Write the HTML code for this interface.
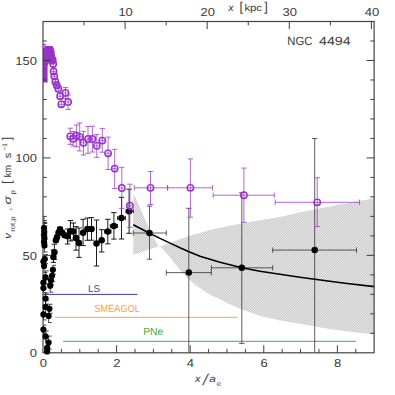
<!DOCTYPE html>
<html><head><meta charset="utf-8"><title>NGC 4494</title>
<style>html,body{margin:0;padding:0;background:#fff;}body{width:395px;height:395px;overflow:hidden;font-family:"Liberation Sans",sans-serif;}svg{display:block;}text{text-rendering:geometricPrecision;}</style>
</head><body>
<svg width="395" height="395" viewBox="0 0 395 395">
<defs>
<clipPath id="cp"><rect x="43.0" y="21.5" width="331.1" height="331.3"/></clipPath>
</defs>
<rect width="395" height="395" fill="#fff"/>
<clipPath id="sh"><polygon points="133.3,194.0 138.7,204.7 143.2,215.3 147.8,225.6 152.4,235.1 156.2,242.6 158.6,246.6 161.3,246.2 166.0,244.5 172.7,241.9 180.0,239.2 188.6,236.3 200.0,233.0 210.6,230.0 225.8,226.6 241.8,223.4 260.0,220.2 280.0,217.0 300.0,212.6 330.0,206.6 352.0,202.5 374.3,198.3 374.3,334.3 357.0,332.6 340.5,330.6 327.0,328.4 314.6,326.2 300.0,323.8 280.7,320.5 260.5,316.0 241.9,309.6 230.1,304.4 220.0,299.2 210.7,295.0 200.6,288.6 195.0,284.5 188.5,279.1 185.0,275.6 180.4,270.4 175.0,263.8 170.2,257.5 165.0,251.8 161.3,247.6 158.6,246.6 155.0,247.6 148.0,249.8 140.0,252.5 133.3,254.7"/></clipPath>
<polygon points="133.3,194.0 138.7,204.7 143.2,215.3 147.8,225.6 152.4,235.1 156.2,242.6 158.6,246.6 161.3,246.2 166.0,244.5 172.7,241.9 180.0,239.2 188.6,236.3 200.0,233.0 210.6,230.0 225.8,226.6 241.8,223.4 260.0,220.2 280.0,217.0 300.0,212.6 330.0,206.6 352.0,202.5 374.3,198.3 374.3,334.3 357.0,332.6 340.5,330.6 327.0,328.4 314.6,326.2 300.0,323.8 280.7,320.5 260.5,316.0 241.9,309.6 230.1,304.4 220.0,299.2 210.7,295.0 200.6,288.6 195.0,284.5 188.5,279.1 185.0,275.6 180.4,270.4 175.0,263.8 170.2,257.5 165.0,251.8 161.3,247.6 158.6,246.6 155.0,247.6 148.0,249.8 140.0,252.5 133.3,254.7" fill="#e5e5e5"/>
<g clip-path="url(#sh)" stroke="#c2c2c2" stroke-width="0.88">
<path d="M130,190.0 L378,-58.0"/>
<path d="M130,192.5 L378,-55.5"/>
<path d="M130,195.0 L378,-53.0"/>
<path d="M130,197.5 L378,-50.5"/>
<path d="M130,200.0 L378,-48.0"/>
<path d="M130,202.5 L378,-45.5"/>
<path d="M130,205.0 L378,-43.0"/>
<path d="M130,207.5 L378,-40.5"/>
<path d="M130,210.0 L378,-38.0"/>
<path d="M130,212.5 L378,-35.5"/>
<path d="M130,215.0 L378,-33.0"/>
<path d="M130,217.5 L378,-30.5"/>
<path d="M130,220.0 L378,-28.0"/>
<path d="M130,222.5 L378,-25.5"/>
<path d="M130,225.0 L378,-23.0"/>
<path d="M130,227.5 L378,-20.5"/>
<path d="M130,230.0 L378,-18.0"/>
<path d="M130,232.5 L378,-15.5"/>
<path d="M130,235.0 L378,-13.0"/>
<path d="M130,237.5 L378,-10.5"/>
<path d="M130,240.0 L378,-8.0"/>
<path d="M130,242.5 L378,-5.5"/>
<path d="M130,245.0 L378,-3.0"/>
<path d="M130,247.5 L378,-0.5"/>
<path d="M130,250.0 L378,2.0"/>
<path d="M130,252.5 L378,4.5"/>
<path d="M130,255.0 L378,7.0"/>
<path d="M130,257.5 L378,9.5"/>
<path d="M130,260.0 L378,12.0"/>
<path d="M130,262.5 L378,14.5"/>
<path d="M130,265.0 L378,17.0"/>
<path d="M130,267.5 L378,19.5"/>
<path d="M130,270.0 L378,22.0"/>
<path d="M130,272.5 L378,24.5"/>
<path d="M130,275.0 L378,27.0"/>
<path d="M130,277.5 L378,29.5"/>
<path d="M130,280.0 L378,32.0"/>
<path d="M130,282.5 L378,34.5"/>
<path d="M130,285.0 L378,37.0"/>
<path d="M130,287.5 L378,39.5"/>
<path d="M130,290.0 L378,42.0"/>
<path d="M130,292.5 L378,44.5"/>
<path d="M130,295.0 L378,47.0"/>
<path d="M130,297.5 L378,49.5"/>
<path d="M130,300.0 L378,52.0"/>
<path d="M130,302.5 L378,54.5"/>
<path d="M130,305.0 L378,57.0"/>
<path d="M130,307.5 L378,59.5"/>
<path d="M130,310.0 L378,62.0"/>
<path d="M130,312.5 L378,64.5"/>
<path d="M130,315.0 L378,67.0"/>
<path d="M130,317.5 L378,69.5"/>
<path d="M130,320.0 L378,72.0"/>
<path d="M130,322.5 L378,74.5"/>
<path d="M130,325.0 L378,77.0"/>
<path d="M130,327.5 L378,79.5"/>
<path d="M130,330.0 L378,82.0"/>
<path d="M130,332.5 L378,84.5"/>
<path d="M130,335.0 L378,87.0"/>
<path d="M130,337.5 L378,89.5"/>
<path d="M130,340.0 L378,92.0"/>
<path d="M130,342.5 L378,94.5"/>
<path d="M130,345.0 L378,97.0"/>
<path d="M130,347.5 L378,99.5"/>
<path d="M130,350.0 L378,102.0"/>
<path d="M130,352.5 L378,104.5"/>
<path d="M130,355.0 L378,107.0"/>
<path d="M130,357.5 L378,109.5"/>
<path d="M130,360.0 L378,112.0"/>
<path d="M130,362.5 L378,114.5"/>
<path d="M130,365.0 L378,117.0"/>
<path d="M130,367.5 L378,119.5"/>
<path d="M130,370.0 L378,122.0"/>
<path d="M130,372.5 L378,124.5"/>
<path d="M130,375.0 L378,127.0"/>
<path d="M130,377.5 L378,129.5"/>
<path d="M130,380.0 L378,132.0"/>
<path d="M130,382.5 L378,134.5"/>
<path d="M130,385.0 L378,137.0"/>
<path d="M130,387.5 L378,139.5"/>
<path d="M130,390.0 L378,142.0"/>
<path d="M130,392.5 L378,144.5"/>
<path d="M130,395.0 L378,147.0"/>
<path d="M130,397.5 L378,149.5"/>
<path d="M130,400.0 L378,152.0"/>
<path d="M130,402.5 L378,154.5"/>
<path d="M130,405.0 L378,157.0"/>
<path d="M130,407.5 L378,159.5"/>
<path d="M130,410.0 L378,162.0"/>
<path d="M130,412.5 L378,164.5"/>
<path d="M130,415.0 L378,167.0"/>
<path d="M130,417.5 L378,169.5"/>
<path d="M130,420.0 L378,172.0"/>
<path d="M130,422.5 L378,174.5"/>
<path d="M130,425.0 L378,177.0"/>
<path d="M130,427.5 L378,179.5"/>
<path d="M130,430.0 L378,182.0"/>
<path d="M130,432.5 L378,184.5"/>
<path d="M130,435.0 L378,187.0"/>
<path d="M130,437.5 L378,189.5"/>
<path d="M130,440.0 L378,192.0"/>
<path d="M130,442.5 L378,194.5"/>
<path d="M130,445.0 L378,197.0"/>
<path d="M130,447.5 L378,199.5"/>
<path d="M130,450.0 L378,202.0"/>
<path d="M130,452.5 L378,204.5"/>
<path d="M130,455.0 L378,207.0"/>
<path d="M130,457.5 L378,209.5"/>
<path d="M130,460.0 L378,212.0"/>
<path d="M130,462.5 L378,214.5"/>
<path d="M130,465.0 L378,217.0"/>
<path d="M130,467.5 L378,219.5"/>
<path d="M130,470.0 L378,222.0"/>
<path d="M130,472.5 L378,224.5"/>
<path d="M130,475.0 L378,227.0"/>
<path d="M130,477.5 L378,229.5"/>
<path d="M130,480.0 L378,232.0"/>
<path d="M130,482.5 L378,234.5"/>
<path d="M130,485.0 L378,237.0"/>
<path d="M130,487.5 L378,239.5"/>
<path d="M130,490.0 L378,242.0"/>
<path d="M130,492.5 L378,244.5"/>
<path d="M130,495.0 L378,247.0"/>
<path d="M130,497.5 L378,249.5"/>
<path d="M130,500.0 L378,252.0"/>
<path d="M130,502.5 L378,254.5"/>
<path d="M130,505.0 L378,257.0"/>
<path d="M130,507.5 L378,259.5"/>
<path d="M130,510.0 L378,262.0"/>
<path d="M130,512.5 L378,264.5"/>
<path d="M130,515.0 L378,267.0"/>
<path d="M130,517.5 L378,269.5"/>
<path d="M130,520.0 L378,272.0"/>
<path d="M130,522.5 L378,274.5"/>
<path d="M130,525.0 L378,277.0"/>
<path d="M130,527.5 L378,279.5"/>
<path d="M130,530.0 L378,282.0"/>
<path d="M130,532.5 L378,284.5"/>
<path d="M130,535.0 L378,287.0"/>
<path d="M130,537.5 L378,289.5"/>
<path d="M130,540.0 L378,292.0"/>
<path d="M130,542.5 L378,294.5"/>
<path d="M130,545.0 L378,297.0"/>
<path d="M130,547.5 L378,299.5"/>
<path d="M130,550.0 L378,302.0"/>
<path d="M130,552.5 L378,304.5"/>
<path d="M130,555.0 L378,307.0"/>
<path d="M130,557.5 L378,309.5"/>
<path d="M130,560.0 L378,312.0"/>
<path d="M130,562.5 L378,314.5"/>
<path d="M130,565.0 L378,317.0"/>
<path d="M130,567.5 L378,319.5"/>
<path d="M130,570.0 L378,322.0"/>
<path d="M130,572.5 L378,324.5"/>
<path d="M130,575.0 L378,327.0"/>
<path d="M130,577.5 L378,329.5"/>
<path d="M130,580.0 L378,332.0"/>
<path d="M130,582.5 L378,334.5"/>
</g>
<line x1="44.00" y1="294.40" x2="137.40" y2="294.40" stroke="#3c3cb0" stroke-width="1.0" />
<line x1="55.00" y1="317.30" x2="237.20" y2="317.30" stroke="#ffa64d" stroke-width="1.0" />
<line x1="63.10" y1="341.30" x2="356.00" y2="341.30" stroke="#45b045" stroke-width="1.0" />
<path d="M133.2,224.7 L141.0,228.8 L149.6,233.2 L160.0,238.4 L170.6,243.4 L180.0,247.8 L188.4,251.5 L200.0,256.2 L220.0,262.3 L241.8,267.8 L260.0,271.2 L280.0,274.3 L300.0,277.2 L314.7,279.2 L345.0,283.2 L374.3,286.6" fill="none" stroke="#000" stroke-width="1.6" stroke-linejoin="round"/>
<g clip-path="url(#cp)">
<line x1="54.40" y1="244.20" x2="54.40" y2="259.50" stroke="#0a0a0a" stroke-width="0.92" />
<line x1="51.70" y1="244.20" x2="57.10" y2="244.20" stroke="#0a0a0a" stroke-width="0.92" />
<line x1="51.70" y1="259.50" x2="57.10" y2="259.50" stroke="#0a0a0a" stroke-width="0.92" />
<line x1="53.40" y1="250.00" x2="53.40" y2="262.40" stroke="#0a0a0a" stroke-width="0.92" />
<line x1="50.70" y1="250.00" x2="56.10" y2="250.00" stroke="#0a0a0a" stroke-width="0.92" />
<line x1="50.70" y1="262.40" x2="56.10" y2="262.40" stroke="#0a0a0a" stroke-width="0.92" />
<line x1="60.00" y1="227.00" x2="60.00" y2="232.00" stroke="#0a0a0a" stroke-width="0.92" />
<line x1="57.30" y1="227.00" x2="62.70" y2="227.00" stroke="#0a0a0a" stroke-width="0.92" />
<line x1="57.30" y1="232.00" x2="62.70" y2="232.00" stroke="#0a0a0a" stroke-width="0.92" />
<line x1="67.60" y1="229.00" x2="67.60" y2="244.00" stroke="#0a0a0a" stroke-width="0.92" />
<line x1="64.90" y1="229.00" x2="70.30" y2="229.00" stroke="#0a0a0a" stroke-width="0.92" />
<line x1="64.90" y1="244.00" x2="70.30" y2="244.00" stroke="#0a0a0a" stroke-width="0.92" />
<line x1="70.40" y1="220.50" x2="70.40" y2="241.00" stroke="#0a0a0a" stroke-width="0.92" />
<line x1="67.70" y1="220.50" x2="73.10" y2="220.50" stroke="#0a0a0a" stroke-width="0.92" />
<line x1="67.70" y1="241.00" x2="73.10" y2="241.00" stroke="#0a0a0a" stroke-width="0.92" />
<line x1="73.40" y1="223.00" x2="73.40" y2="240.00" stroke="#0a0a0a" stroke-width="0.92" />
<line x1="70.70" y1="223.00" x2="76.10" y2="223.00" stroke="#0a0a0a" stroke-width="0.92" />
<line x1="70.70" y1="240.00" x2="76.10" y2="240.00" stroke="#0a0a0a" stroke-width="0.92" />
<line x1="76.00" y1="226.60" x2="76.00" y2="250.20" stroke="#0a0a0a" stroke-width="0.92" />
<line x1="73.30" y1="226.60" x2="78.70" y2="226.60" stroke="#0a0a0a" stroke-width="0.92" />
<line x1="73.30" y1="250.20" x2="78.70" y2="250.20" stroke="#0a0a0a" stroke-width="0.92" />
<line x1="79.00" y1="228.00" x2="79.00" y2="257.40" stroke="#0a0a0a" stroke-width="0.92" />
<line x1="76.30" y1="228.00" x2="81.70" y2="228.00" stroke="#0a0a0a" stroke-width="0.92" />
<line x1="76.30" y1="257.40" x2="81.70" y2="257.40" stroke="#0a0a0a" stroke-width="0.92" />
<line x1="83.10" y1="219.30" x2="83.10" y2="245.60" stroke="#0a0a0a" stroke-width="0.92" />
<line x1="80.40" y1="219.30" x2="85.80" y2="219.30" stroke="#0a0a0a" stroke-width="0.92" />
<line x1="80.40" y1="245.60" x2="85.80" y2="245.60" stroke="#0a0a0a" stroke-width="0.92" />
<line x1="87.40" y1="218.00" x2="87.40" y2="240.30" stroke="#0a0a0a" stroke-width="0.92" />
<line x1="84.70" y1="218.00" x2="90.10" y2="218.00" stroke="#0a0a0a" stroke-width="0.92" />
<line x1="84.70" y1="240.30" x2="90.10" y2="240.30" stroke="#0a0a0a" stroke-width="0.92" />
<line x1="91.50" y1="217.60" x2="91.50" y2="240.20" stroke="#0a0a0a" stroke-width="0.92" />
<line x1="88.80" y1="217.60" x2="94.20" y2="217.60" stroke="#0a0a0a" stroke-width="0.92" />
<line x1="88.80" y1="240.20" x2="94.20" y2="240.20" stroke="#0a0a0a" stroke-width="0.92" />
<line x1="96.50" y1="220.00" x2="96.50" y2="266.00" stroke="#0a0a0a" stroke-width="0.92" />
<line x1="93.80" y1="220.00" x2="99.20" y2="220.00" stroke="#0a0a0a" stroke-width="0.92" />
<line x1="93.80" y1="266.00" x2="99.20" y2="266.00" stroke="#0a0a0a" stroke-width="0.92" />
<line x1="101.70" y1="229.70" x2="101.70" y2="252.00" stroke="#0a0a0a" stroke-width="0.92" />
<line x1="99.00" y1="229.70" x2="104.40" y2="229.70" stroke="#0a0a0a" stroke-width="0.92" />
<line x1="99.00" y1="252.00" x2="104.40" y2="252.00" stroke="#0a0a0a" stroke-width="0.92" />
<line x1="107.80" y1="219.30" x2="107.80" y2="243.90" stroke="#0a0a0a" stroke-width="0.92" />
<line x1="105.10" y1="219.30" x2="110.50" y2="219.30" stroke="#0a0a0a" stroke-width="0.92" />
<line x1="105.10" y1="243.90" x2="110.50" y2="243.90" stroke="#0a0a0a" stroke-width="0.92" />
<line x1="104.60" y1="231.50" x2="111.00" y2="231.50" stroke="#0a0a0a" stroke-width="0.92" />
<line x1="104.60" y1="229.50" x2="104.60" y2="233.50" stroke="#0a0a0a" stroke-width="0.92" />
<line x1="111.00" y1="229.50" x2="111.00" y2="233.50" stroke="#0a0a0a" stroke-width="0.92" />
<line x1="113.90" y1="212.60" x2="113.90" y2="239.10" stroke="#0a0a0a" stroke-width="0.92" />
<line x1="111.20" y1="212.60" x2="116.60" y2="212.60" stroke="#0a0a0a" stroke-width="0.92" />
<line x1="111.20" y1="239.10" x2="116.60" y2="239.10" stroke="#0a0a0a" stroke-width="0.92" />
<line x1="110.30" y1="226.00" x2="117.50" y2="226.00" stroke="#0a0a0a" stroke-width="0.92" />
<line x1="110.30" y1="224.00" x2="110.30" y2="228.00" stroke="#0a0a0a" stroke-width="0.92" />
<line x1="117.50" y1="224.00" x2="117.50" y2="228.00" stroke="#0a0a0a" stroke-width="0.92" />
<line x1="121.50" y1="197.30" x2="121.50" y2="239.00" stroke="#0a0a0a" stroke-width="0.92" />
<line x1="118.80" y1="197.30" x2="124.20" y2="197.30" stroke="#0a0a0a" stroke-width="0.92" />
<line x1="118.80" y1="239.00" x2="124.20" y2="239.00" stroke="#0a0a0a" stroke-width="0.92" />
<line x1="117.60" y1="218.10" x2="125.40" y2="218.10" stroke="#0a0a0a" stroke-width="0.92" />
<line x1="117.60" y1="216.10" x2="117.60" y2="220.10" stroke="#0a0a0a" stroke-width="0.92" />
<line x1="125.40" y1="216.10" x2="125.40" y2="220.10" stroke="#0a0a0a" stroke-width="0.92" />
<line x1="129.10" y1="189.20" x2="129.10" y2="233.30" stroke="#0a0a0a" stroke-width="0.92" />
<line x1="126.40" y1="189.20" x2="131.80" y2="189.20" stroke="#0a0a0a" stroke-width="0.92" />
<line x1="126.40" y1="233.30" x2="131.80" y2="233.30" stroke="#0a0a0a" stroke-width="0.92" />
<line x1="126.00" y1="211.20" x2="133.30" y2="211.20" stroke="#0a0a0a" stroke-width="0.92" />
<line x1="126.00" y1="209.20" x2="126.00" y2="213.20" stroke="#0a0a0a" stroke-width="0.92" />
<line x1="133.30" y1="209.20" x2="133.30" y2="213.20" stroke="#0a0a0a" stroke-width="0.92" />
<line x1="149.50" y1="206.10" x2="149.50" y2="259.20" stroke="#222" stroke-width="0.72" />
<line x1="146.80" y1="206.10" x2="152.20" y2="206.10" stroke="#222" stroke-width="0.72" />
<line x1="146.80" y1="259.20" x2="152.20" y2="259.20" stroke="#222" stroke-width="0.72" />
<line x1="133.20" y1="233.00" x2="166.30" y2="233.00" stroke="#222" stroke-width="0.72" />
<line x1="133.20" y1="230.30" x2="133.20" y2="235.70" stroke="#222" stroke-width="0.72" />
<line x1="166.30" y1="230.30" x2="166.30" y2="235.70" stroke="#222" stroke-width="0.72" />
<line x1="188.80" y1="208.30" x2="188.80" y2="352.70" stroke="#222" stroke-width="0.72" />
<line x1="186.10" y1="208.30" x2="191.50" y2="208.30" stroke="#222" stroke-width="0.72" />
<line x1="166.30" y1="272.60" x2="211.30" y2="272.60" stroke="#222" stroke-width="0.72" />
<line x1="166.30" y1="269.90" x2="166.30" y2="275.30" stroke="#222" stroke-width="0.72" />
<line x1="211.30" y1="269.90" x2="211.30" y2="275.30" stroke="#222" stroke-width="0.72" />
<line x1="241.80" y1="192.70" x2="241.80" y2="343.40" stroke="#222" stroke-width="0.72" />
<line x1="239.10" y1="192.70" x2="244.50" y2="192.70" stroke="#222" stroke-width="0.72" />
<line x1="239.10" y1="343.40" x2="244.50" y2="343.40" stroke="#222" stroke-width="0.72" />
<line x1="211.40" y1="267.80" x2="272.70" y2="267.80" stroke="#222" stroke-width="0.72" />
<line x1="211.40" y1="265.10" x2="211.40" y2="270.50" stroke="#222" stroke-width="0.72" />
<line x1="272.70" y1="265.10" x2="272.70" y2="270.50" stroke="#222" stroke-width="0.72" />
<line x1="314.70" y1="138.50" x2="314.70" y2="352.70" stroke="#222" stroke-width="0.72" />
<line x1="312.00" y1="138.50" x2="317.40" y2="138.50" stroke="#222" stroke-width="0.72" />
<line x1="272.70" y1="250.10" x2="356.50" y2="250.10" stroke="#222" stroke-width="0.72" />
<line x1="272.70" y1="247.40" x2="272.70" y2="252.80" stroke="#222" stroke-width="0.72" />
<line x1="356.50" y1="247.40" x2="356.50" y2="252.80" stroke="#222" stroke-width="0.72" />
</g>
<g clip-path="url(#cp)">
<line x1="44.00" y1="223.50" x2="44.00" y2="232.50" stroke="#1a1a1a" stroke-width="0.8" />
<line x1="43.50" y1="223.50" x2="47.20" y2="223.50" stroke="#1a1a1a" stroke-width="0.8" />
<line x1="43.50" y1="232.50" x2="47.20" y2="232.50" stroke="#1a1a1a" stroke-width="0.8" />
<line x1="44.20" y1="226.00" x2="44.20" y2="237.00" stroke="#1a1a1a" stroke-width="0.8" />
<line x1="43.70" y1="226.00" x2="47.40" y2="226.00" stroke="#1a1a1a" stroke-width="0.8" />
<line x1="43.70" y1="237.00" x2="47.40" y2="237.00" stroke="#1a1a1a" stroke-width="0.8" />
<line x1="44.00" y1="228.50" x2="44.00" y2="241.50" stroke="#1a1a1a" stroke-width="0.8" />
<line x1="43.50" y1="228.50" x2="47.20" y2="228.50" stroke="#1a1a1a" stroke-width="0.8" />
<line x1="43.50" y1="241.50" x2="47.20" y2="241.50" stroke="#1a1a1a" stroke-width="0.8" />
<line x1="44.30" y1="234.00" x2="44.30" y2="243.00" stroke="#1a1a1a" stroke-width="0.8" />
<line x1="43.80" y1="234.00" x2="47.50" y2="234.00" stroke="#1a1a1a" stroke-width="0.8" />
<line x1="43.80" y1="243.00" x2="47.50" y2="243.00" stroke="#1a1a1a" stroke-width="0.8" />
<line x1="44.00" y1="236.50" x2="44.00" y2="247.50" stroke="#1a1a1a" stroke-width="0.8" />
<line x1="43.50" y1="236.50" x2="47.20" y2="236.50" stroke="#1a1a1a" stroke-width="0.8" />
<line x1="43.50" y1="247.50" x2="47.20" y2="247.50" stroke="#1a1a1a" stroke-width="0.8" />
<line x1="44.40" y1="239.00" x2="44.40" y2="252.00" stroke="#1a1a1a" stroke-width="0.8" />
<line x1="43.90" y1="239.00" x2="47.60" y2="239.00" stroke="#1a1a1a" stroke-width="0.8" />
<line x1="43.90" y1="252.00" x2="47.60" y2="252.00" stroke="#1a1a1a" stroke-width="0.8" />
<line x1="44.80" y1="254.60" x2="44.80" y2="263.60" stroke="#1a1a1a" stroke-width="0.8" />
<line x1="44.30" y1="254.60" x2="48.00" y2="254.60" stroke="#1a1a1a" stroke-width="0.8" />
<line x1="44.30" y1="263.60" x2="48.00" y2="263.60" stroke="#1a1a1a" stroke-width="0.8" />
<line x1="43.40" y1="256.10" x2="43.40" y2="267.10" stroke="#1a1a1a" stroke-width="0.8" />
<line x1="42.90" y1="256.10" x2="46.60" y2="256.10" stroke="#1a1a1a" stroke-width="0.8" />
<line x1="42.90" y1="267.10" x2="46.60" y2="267.10" stroke="#1a1a1a" stroke-width="0.8" />
<line x1="44.10" y1="259.50" x2="44.10" y2="272.50" stroke="#1a1a1a" stroke-width="0.8" />
<line x1="43.60" y1="259.50" x2="47.30" y2="259.50" stroke="#1a1a1a" stroke-width="0.8" />
<line x1="43.60" y1="272.50" x2="47.30" y2="272.50" stroke="#1a1a1a" stroke-width="0.8" />
<line x1="52.90" y1="265.30" x2="52.90" y2="274.30" stroke="#1a1a1a" stroke-width="0.8" />
<line x1="52.40" y1="265.30" x2="56.10" y2="265.30" stroke="#1a1a1a" stroke-width="0.8" />
<line x1="52.40" y1="274.30" x2="56.10" y2="274.30" stroke="#1a1a1a" stroke-width="0.8" />
<line x1="52.00" y1="270.30" x2="52.00" y2="281.30" stroke="#1a1a1a" stroke-width="0.8" />
<line x1="51.50" y1="270.30" x2="55.20" y2="270.30" stroke="#1a1a1a" stroke-width="0.8" />
<line x1="51.50" y1="281.30" x2="55.20" y2="281.30" stroke="#1a1a1a" stroke-width="0.8" />
<line x1="45.60" y1="270.90" x2="45.60" y2="283.90" stroke="#1a1a1a" stroke-width="0.8" />
<line x1="45.10" y1="270.90" x2="48.80" y2="270.90" stroke="#1a1a1a" stroke-width="0.8" />
<line x1="45.10" y1="283.90" x2="48.80" y2="283.90" stroke="#1a1a1a" stroke-width="0.8" />
<line x1="50.90" y1="275.90" x2="50.90" y2="284.90" stroke="#1a1a1a" stroke-width="0.8" />
<line x1="50.40" y1="275.90" x2="54.10" y2="275.90" stroke="#1a1a1a" stroke-width="0.8" />
<line x1="50.40" y1="284.90" x2="54.10" y2="284.90" stroke="#1a1a1a" stroke-width="0.8" />
<line x1="43.40" y1="277.20" x2="43.40" y2="288.20" stroke="#1a1a1a" stroke-width="0.8" />
<line x1="42.90" y1="277.20" x2="46.60" y2="277.20" stroke="#1a1a1a" stroke-width="0.8" />
<line x1="42.90" y1="288.20" x2="46.60" y2="288.20" stroke="#1a1a1a" stroke-width="0.8" />
<line x1="50.20" y1="279.20" x2="50.20" y2="292.20" stroke="#1a1a1a" stroke-width="0.8" />
<line x1="49.70" y1="279.20" x2="53.40" y2="279.20" stroke="#1a1a1a" stroke-width="0.8" />
<line x1="49.70" y1="292.20" x2="53.40" y2="292.20" stroke="#1a1a1a" stroke-width="0.8" />
<line x1="43.40" y1="283.50" x2="43.40" y2="292.50" stroke="#1a1a1a" stroke-width="0.8" />
<line x1="42.90" y1="283.50" x2="46.60" y2="283.50" stroke="#1a1a1a" stroke-width="0.8" />
<line x1="42.90" y1="292.50" x2="46.60" y2="292.50" stroke="#1a1a1a" stroke-width="0.8" />
<line x1="45.60" y1="293.10" x2="45.60" y2="304.10" stroke="#1a1a1a" stroke-width="0.8" />
<line x1="45.10" y1="293.10" x2="48.80" y2="293.10" stroke="#1a1a1a" stroke-width="0.8" />
<line x1="45.10" y1="304.10" x2="48.80" y2="304.10" stroke="#1a1a1a" stroke-width="0.8" />
<line x1="45.60" y1="300.40" x2="45.60" y2="313.40" stroke="#1a1a1a" stroke-width="0.8" />
<line x1="45.10" y1="300.40" x2="48.80" y2="300.40" stroke="#1a1a1a" stroke-width="0.8" />
<line x1="45.10" y1="313.40" x2="48.80" y2="313.40" stroke="#1a1a1a" stroke-width="0.8" />
<line x1="49.40" y1="304.30" x2="49.40" y2="313.30" stroke="#1a1a1a" stroke-width="0.8" />
<line x1="48.90" y1="304.30" x2="52.60" y2="304.30" stroke="#1a1a1a" stroke-width="0.8" />
<line x1="48.90" y1="313.30" x2="52.60" y2="313.30" stroke="#1a1a1a" stroke-width="0.8" />
<line x1="43.40" y1="308.90" x2="43.40" y2="319.90" stroke="#1a1a1a" stroke-width="0.8" />
<line x1="42.90" y1="308.90" x2="46.60" y2="308.90" stroke="#1a1a1a" stroke-width="0.8" />
<line x1="42.90" y1="319.90" x2="46.60" y2="319.90" stroke="#1a1a1a" stroke-width="0.8" />
<line x1="48.60" y1="309.50" x2="48.60" y2="322.50" stroke="#1a1a1a" stroke-width="0.8" />
<line x1="48.10" y1="309.50" x2="51.80" y2="309.50" stroke="#1a1a1a" stroke-width="0.8" />
<line x1="48.10" y1="322.50" x2="51.80" y2="322.50" stroke="#1a1a1a" stroke-width="0.8" />
<line x1="43.40" y1="325.10" x2="43.40" y2="334.10" stroke="#1a1a1a" stroke-width="0.8" />
<line x1="42.90" y1="325.10" x2="46.60" y2="325.10" stroke="#1a1a1a" stroke-width="0.8" />
<line x1="42.90" y1="334.10" x2="46.60" y2="334.10" stroke="#1a1a1a" stroke-width="0.8" />
<line x1="45.60" y1="331.00" x2="45.60" y2="342.00" stroke="#1a1a1a" stroke-width="0.8" />
<line x1="45.10" y1="331.00" x2="48.80" y2="331.00" stroke="#1a1a1a" stroke-width="0.8" />
<line x1="45.10" y1="342.00" x2="48.80" y2="342.00" stroke="#1a1a1a" stroke-width="0.8" />
<line x1="48.60" y1="336.10" x2="48.60" y2="349.10" stroke="#1a1a1a" stroke-width="0.8" />
<line x1="48.10" y1="336.10" x2="51.80" y2="336.10" stroke="#1a1a1a" stroke-width="0.8" />
<line x1="48.10" y1="349.10" x2="51.80" y2="349.10" stroke="#1a1a1a" stroke-width="0.8" />
<line x1="47.10" y1="343.40" x2="47.10" y2="352.40" stroke="#1a1a1a" stroke-width="0.8" />
<line x1="46.60" y1="343.40" x2="50.30" y2="343.40" stroke="#1a1a1a" stroke-width="0.8" />
<line x1="46.60" y1="352.40" x2="50.30" y2="352.40" stroke="#1a1a1a" stroke-width="0.8" />
<line x1="47.10" y1="346.00" x2="47.10" y2="357.00" stroke="#1a1a1a" stroke-width="0.8" />
<line x1="46.60" y1="346.00" x2="50.30" y2="346.00" stroke="#1a1a1a" stroke-width="0.8" />
<line x1="46.60" y1="357.00" x2="50.30" y2="357.00" stroke="#1a1a1a" stroke-width="0.8" />
<line x1="44.00" y1="216.50" x2="44.00" y2="228.00" stroke="#1a1a1a" stroke-width="0.8" />
<line x1="43.00" y1="220.60" x2="47.00" y2="220.60" stroke="#1a1a1a" stroke-width="0.9" />
<line x1="43.00" y1="222.50" x2="47.00" y2="222.50" stroke="#1a1a1a" stroke-width="0.9" />
</g>
<circle cx="60.0" cy="229.6" r="3.25" fill="#000"/>
<circle cx="62.3" cy="232.7" r="3.25" fill="#000"/>
<circle cx="64.6" cy="235.3" r="3.25" fill="#000"/>
<circle cx="67.6" cy="236.2" r="3.25" fill="#000"/>
<circle cx="70.4" cy="231.2" r="3.25" fill="#000"/>
<circle cx="73.4" cy="231.5" r="3.25" fill="#000"/>
<circle cx="76.0" cy="238.0" r="3.25" fill="#000"/>
<circle cx="79.0" cy="242.9" r="3.25" fill="#000"/>
<circle cx="83.1" cy="232.7" r="3.25" fill="#000"/>
<circle cx="87.4" cy="229.0" r="3.25" fill="#000"/>
<circle cx="91.5" cy="229.0" r="3.25" fill="#000"/>
<circle cx="96.5" cy="243.6" r="3.25" fill="#000"/>
<circle cx="101.7" cy="240.3" r="3.25" fill="#000"/>
<circle cx="107.8" cy="231.5" r="3.25" fill="#000"/>
<circle cx="113.9" cy="226.0" r="3.25" fill="#000"/>
<circle cx="121.5" cy="218.1" r="3.25" fill="#000"/>
<circle cx="129.1" cy="211.2" r="3.25" fill="#000"/>
<circle cx="149.5" cy="233.0" r="3.25" fill="#000"/>
<circle cx="188.8" cy="272.6" r="3.25" fill="#000"/>
<circle cx="241.8" cy="267.8" r="3.25" fill="#000"/>
<circle cx="314.7" cy="250.1" r="3.25" fill="#000"/>
<path d="M43,47.9 L45,47.9 L45,46.0 L52.6,46.0 L52.9,48 L52.6,50 L53.0,56 L53.0,62.2 L48.6,63.2 L47.6,66 L47.6,82.4 L43,82.4 Z" fill="#9932cc"/>
<line x1="43.00" y1="44.30" x2="46.20" y2="44.30" stroke="#9932cc" stroke-width="1.0" />
<line x1="44.40" y1="44.30" x2="44.40" y2="48.00" stroke="#9932cc" stroke-width="0.8" />
<circle cx="50.2" cy="49.8" r="3.1" fill="none" stroke="#9932cc" stroke-width="1.5"/>
<line x1="50.20" y1="47.20" x2="50.20" y2="52.40" stroke="#9932cc" stroke-width="0.75" />
<circle cx="50.9" cy="52.0" r="3.1" fill="none" stroke="#9932cc" stroke-width="1.5"/>
<line x1="50.90" y1="49.40" x2="50.90" y2="54.60" stroke="#9932cc" stroke-width="0.75" />
<circle cx="50.5" cy="54.4" r="3.1" fill="none" stroke="#9932cc" stroke-width="1.5"/>
<line x1="50.50" y1="51.80" x2="50.50" y2="57.00" stroke="#9932cc" stroke-width="0.75" />
<circle cx="51.3" cy="56.4" r="3.1" fill="none" stroke="#9932cc" stroke-width="1.5"/>
<line x1="51.30" y1="53.80" x2="51.30" y2="59.00" stroke="#9932cc" stroke-width="0.75" />
<circle cx="50.9" cy="58.6" r="3.1" fill="none" stroke="#9932cc" stroke-width="1.5"/>
<line x1="50.90" y1="56.00" x2="50.90" y2="61.20" stroke="#9932cc" stroke-width="0.75" />
<circle cx="51.8" cy="60.6" r="3.1" fill="none" stroke="#9932cc" stroke-width="1.5"/>
<line x1="51.80" y1="58.00" x2="51.80" y2="63.20" stroke="#9932cc" stroke-width="0.75" />
<line x1="52.70" y1="57.40" x2="52.70" y2="62.60" stroke="#9932cc" stroke-width="0.75" />
<line x1="50.00" y1="57.40" x2="55.40" y2="57.40" stroke="#9932cc" stroke-width="0.75" />
<line x1="50.00" y1="62.60" x2="55.40" y2="62.60" stroke="#9932cc" stroke-width="0.75" />
<line x1="53.20" y1="61.40" x2="53.20" y2="66.60" stroke="#9932cc" stroke-width="0.75" />
<line x1="50.50" y1="61.40" x2="55.90" y2="61.40" stroke="#9932cc" stroke-width="0.75" />
<line x1="50.50" y1="66.60" x2="55.90" y2="66.60" stroke="#9932cc" stroke-width="0.75" />
<line x1="53.60" y1="68.80" x2="53.60" y2="74.00" stroke="#9932cc" stroke-width="0.75" />
<line x1="50.90" y1="68.80" x2="56.30" y2="68.80" stroke="#9932cc" stroke-width="0.75" />
<line x1="50.90" y1="74.00" x2="56.30" y2="74.00" stroke="#9932cc" stroke-width="0.75" />
<line x1="54.30" y1="73.80" x2="54.30" y2="78.90" stroke="#9932cc" stroke-width="0.75" />
<line x1="51.60" y1="73.80" x2="57.00" y2="73.80" stroke="#9932cc" stroke-width="0.75" />
<line x1="51.60" y1="78.90" x2="57.00" y2="78.90" stroke="#9932cc" stroke-width="0.75" />
<line x1="55.40" y1="79.00" x2="55.40" y2="84.30" stroke="#9932cc" stroke-width="0.75" />
<line x1="52.70" y1="79.00" x2="58.10" y2="79.00" stroke="#9932cc" stroke-width="0.75" />
<line x1="52.70" y1="84.30" x2="58.10" y2="84.30" stroke="#9932cc" stroke-width="0.75" />
<line x1="56.70" y1="82.60" x2="56.70" y2="87.80" stroke="#9932cc" stroke-width="0.75" />
<line x1="54.00" y1="82.60" x2="59.40" y2="82.60" stroke="#9932cc" stroke-width="0.75" />
<line x1="54.00" y1="87.80" x2="59.40" y2="87.80" stroke="#9932cc" stroke-width="0.75" />
<line x1="58.30" y1="86.00" x2="58.30" y2="91.30" stroke="#9932cc" stroke-width="0.75" />
<line x1="55.60" y1="86.00" x2="61.00" y2="86.00" stroke="#9932cc" stroke-width="0.75" />
<line x1="55.60" y1="91.30" x2="61.00" y2="91.30" stroke="#9932cc" stroke-width="0.75" />
<line x1="60.10" y1="93.40" x2="60.10" y2="99.00" stroke="#9932cc" stroke-width="0.75" />
<line x1="57.40" y1="93.40" x2="62.80" y2="93.40" stroke="#9932cc" stroke-width="0.75" />
<line x1="57.40" y1="99.00" x2="62.80" y2="99.00" stroke="#9932cc" stroke-width="0.75" />
<line x1="61.30" y1="101.50" x2="61.30" y2="107.10" stroke="#9932cc" stroke-width="0.75" />
<line x1="58.60" y1="101.50" x2="64.00" y2="101.50" stroke="#9932cc" stroke-width="0.75" />
<line x1="58.60" y1="107.10" x2="64.00" y2="107.10" stroke="#9932cc" stroke-width="0.75" />
<line x1="65.50" y1="87.50" x2="65.50" y2="98.50" stroke="#9932cc" stroke-width="0.75" />
<line x1="62.80" y1="87.50" x2="68.20" y2="87.50" stroke="#9932cc" stroke-width="0.75" />
<line x1="62.80" y1="98.50" x2="68.20" y2="98.50" stroke="#9932cc" stroke-width="0.75" />
<line x1="68.10" y1="95.00" x2="68.10" y2="109.40" stroke="#9932cc" stroke-width="0.75" />
<line x1="65.40" y1="95.00" x2="70.80" y2="95.00" stroke="#9932cc" stroke-width="0.75" />
<line x1="65.40" y1="109.40" x2="70.80" y2="109.40" stroke="#9932cc" stroke-width="0.75" />
<line x1="70.20" y1="128.20" x2="70.20" y2="144.40" stroke="#9932cc" stroke-width="0.75" />
<line x1="67.50" y1="128.20" x2="72.90" y2="128.20" stroke="#9932cc" stroke-width="0.75" />
<line x1="67.50" y1="144.40" x2="72.90" y2="144.40" stroke="#9932cc" stroke-width="0.75" />
<line x1="73.20" y1="131.50" x2="73.20" y2="146.00" stroke="#9932cc" stroke-width="0.75" />
<line x1="70.50" y1="131.50" x2="75.90" y2="131.50" stroke="#9932cc" stroke-width="0.75" />
<line x1="70.50" y1="146.00" x2="75.90" y2="146.00" stroke="#9932cc" stroke-width="0.75" />
<line x1="76.60" y1="125.00" x2="76.60" y2="146.80" stroke="#9932cc" stroke-width="0.75" />
<line x1="73.90" y1="125.00" x2="79.30" y2="125.00" stroke="#9932cc" stroke-width="0.75" />
<line x1="73.90" y1="146.80" x2="79.30" y2="146.80" stroke="#9932cc" stroke-width="0.75" />
<line x1="79.70" y1="123.00" x2="79.70" y2="150.90" stroke="#9932cc" stroke-width="0.75" />
<line x1="77.00" y1="123.00" x2="82.40" y2="123.00" stroke="#9932cc" stroke-width="0.75" />
<line x1="77.00" y1="150.90" x2="82.40" y2="150.90" stroke="#9932cc" stroke-width="0.75" />
<line x1="83.50" y1="131.30" x2="83.50" y2="155.00" stroke="#9932cc" stroke-width="0.75" />
<line x1="80.80" y1="131.30" x2="86.20" y2="131.30" stroke="#9932cc" stroke-width="0.75" />
<line x1="80.80" y1="155.00" x2="86.20" y2="155.00" stroke="#9932cc" stroke-width="0.75" />
<line x1="88.00" y1="126.60" x2="88.00" y2="153.30" stroke="#9932cc" stroke-width="0.75" />
<line x1="85.30" y1="126.60" x2="90.70" y2="126.60" stroke="#9932cc" stroke-width="0.75" />
<line x1="85.30" y1="153.30" x2="90.70" y2="153.30" stroke="#9932cc" stroke-width="0.75" />
<line x1="92.40" y1="126.20" x2="92.40" y2="152.00" stroke="#9932cc" stroke-width="0.75" />
<line x1="89.70" y1="126.20" x2="95.10" y2="126.20" stroke="#9932cc" stroke-width="0.75" />
<line x1="89.70" y1="152.00" x2="95.10" y2="152.00" stroke="#9932cc" stroke-width="0.75" />
<line x1="96.80" y1="134.50" x2="96.80" y2="157.40" stroke="#9932cc" stroke-width="0.75" />
<line x1="94.10" y1="134.50" x2="99.50" y2="134.50" stroke="#9932cc" stroke-width="0.75" />
<line x1="94.10" y1="157.40" x2="99.50" y2="157.40" stroke="#9932cc" stroke-width="0.75" />
<line x1="102.30" y1="128.40" x2="102.30" y2="152.20" stroke="#9932cc" stroke-width="0.75" />
<line x1="99.60" y1="128.40" x2="105.00" y2="128.40" stroke="#9932cc" stroke-width="0.75" />
<line x1="99.60" y1="152.20" x2="105.00" y2="152.20" stroke="#9932cc" stroke-width="0.75" />
<line x1="108.10" y1="137.10" x2="108.10" y2="169.50" stroke="#9932cc" stroke-width="0.75" />
<line x1="105.40" y1="137.10" x2="110.80" y2="137.10" stroke="#9932cc" stroke-width="0.75" />
<line x1="105.40" y1="169.50" x2="110.80" y2="169.50" stroke="#9932cc" stroke-width="0.75" />
<line x1="114.70" y1="149.30" x2="114.70" y2="188.50" stroke="#9932cc" stroke-width="0.75" />
<line x1="112.00" y1="149.30" x2="117.40" y2="149.30" stroke="#9932cc" stroke-width="0.75" />
<line x1="112.00" y1="188.50" x2="117.40" y2="188.50" stroke="#9932cc" stroke-width="0.75" />
<line x1="121.80" y1="167.30" x2="121.80" y2="208.40" stroke="#9932cc" stroke-width="0.75" />
<line x1="119.10" y1="167.30" x2="124.50" y2="167.30" stroke="#9932cc" stroke-width="0.75" />
<line x1="119.10" y1="208.40" x2="124.50" y2="208.40" stroke="#9932cc" stroke-width="0.75" />
<line x1="129.90" y1="184.20" x2="129.90" y2="227.40" stroke="#9932cc" stroke-width="0.75" />
<line x1="127.20" y1="184.20" x2="132.60" y2="184.20" stroke="#9932cc" stroke-width="0.75" />
<line x1="127.20" y1="227.40" x2="132.60" y2="227.40" stroke="#9932cc" stroke-width="0.75" />
<line x1="150.50" y1="171.50" x2="150.50" y2="204.50" stroke="#9932cc" stroke-width="0.75" />
<line x1="147.80" y1="171.50" x2="153.20" y2="171.50" stroke="#9932cc" stroke-width="0.75" />
<line x1="147.80" y1="204.50" x2="153.20" y2="204.50" stroke="#9932cc" stroke-width="0.75" />
<line x1="134.30" y1="187.80" x2="167.60" y2="187.80" stroke="#9932cc" stroke-width="0.75" />
<line x1="134.30" y1="185.10" x2="134.30" y2="190.50" stroke="#9932cc" stroke-width="0.75" />
<line x1="167.60" y1="185.10" x2="167.60" y2="190.50" stroke="#9932cc" stroke-width="0.75" />
<line x1="190.40" y1="158.90" x2="190.40" y2="217.20" stroke="#9932cc" stroke-width="0.75" />
<line x1="187.70" y1="158.90" x2="193.10" y2="158.90" stroke="#9932cc" stroke-width="0.75" />
<line x1="187.70" y1="217.20" x2="193.10" y2="217.20" stroke="#9932cc" stroke-width="0.75" />
<line x1="167.60" y1="187.80" x2="212.60" y2="187.80" stroke="#9932cc" stroke-width="0.75" />
<line x1="167.60" y1="185.10" x2="167.60" y2="190.50" stroke="#9932cc" stroke-width="0.75" />
<line x1="212.60" y1="185.10" x2="212.60" y2="190.50" stroke="#9932cc" stroke-width="0.75" />
<line x1="243.90" y1="168.10" x2="243.90" y2="222.40" stroke="#9932cc" stroke-width="0.75" />
<line x1="241.20" y1="168.10" x2="246.60" y2="168.10" stroke="#9932cc" stroke-width="0.75" />
<line x1="241.20" y1="222.40" x2="246.60" y2="222.40" stroke="#9932cc" stroke-width="0.75" />
<line x1="213.20" y1="195.20" x2="274.30" y2="195.20" stroke="#9932cc" stroke-width="0.75" />
<line x1="213.20" y1="192.50" x2="213.20" y2="197.90" stroke="#9932cc" stroke-width="0.75" />
<line x1="274.30" y1="192.50" x2="274.30" y2="197.90" stroke="#9932cc" stroke-width="0.75" />
<line x1="317.20" y1="177.70" x2="317.20" y2="226.60" stroke="#9932cc" stroke-width="0.75" />
<line x1="314.50" y1="177.70" x2="319.90" y2="177.70" stroke="#9932cc" stroke-width="0.75" />
<line x1="314.50" y1="226.60" x2="319.90" y2="226.60" stroke="#9932cc" stroke-width="0.75" />
<line x1="275.20" y1="202.30" x2="359.60" y2="202.30" stroke="#9932cc" stroke-width="0.75" />
<line x1="275.20" y1="199.60" x2="275.20" y2="205.00" stroke="#9932cc" stroke-width="0.75" />
<line x1="359.60" y1="199.60" x2="359.60" y2="205.00" stroke="#9932cc" stroke-width="0.75" />
<line x1="49.90" y1="60.00" x2="55.50" y2="60.00" stroke="#9932cc" stroke-width="0.7" />
<line x1="50.40" y1="64.00" x2="56.00" y2="64.00" stroke="#9932cc" stroke-width="0.7" />
<line x1="50.80" y1="71.40" x2="56.40" y2="71.40" stroke="#9932cc" stroke-width="0.7" />
<line x1="51.50" y1="76.30" x2="57.10" y2="76.30" stroke="#9932cc" stroke-width="0.7" />
<line x1="52.60" y1="81.70" x2="58.20" y2="81.70" stroke="#9932cc" stroke-width="0.7" />
<line x1="53.90" y1="85.20" x2="59.50" y2="85.20" stroke="#9932cc" stroke-width="0.7" />
<line x1="55.50" y1="88.70" x2="61.10" y2="88.70" stroke="#9932cc" stroke-width="0.7" />
<line x1="57.30" y1="96.20" x2="62.90" y2="96.20" stroke="#9932cc" stroke-width="0.7" />
<line x1="58.50" y1="104.30" x2="64.10" y2="104.30" stroke="#9932cc" stroke-width="0.7" />
<line x1="62.70" y1="92.90" x2="68.30" y2="92.90" stroke="#9932cc" stroke-width="0.7" />
<line x1="65.30" y1="101.90" x2="70.90" y2="101.90" stroke="#9932cc" stroke-width="0.7" />
<line x1="67.40" y1="136.30" x2="73.00" y2="136.30" stroke="#9932cc" stroke-width="0.7" />
<line x1="70.40" y1="138.70" x2="76.00" y2="138.70" stroke="#9932cc" stroke-width="0.7" />
<line x1="73.80" y1="135.70" x2="79.40" y2="135.70" stroke="#9932cc" stroke-width="0.7" />
<line x1="76.90" y1="136.80" x2="82.50" y2="136.80" stroke="#9932cc" stroke-width="0.7" />
<line x1="80.70" y1="142.80" x2="86.30" y2="142.80" stroke="#9932cc" stroke-width="0.7" />
<line x1="85.20" y1="139.00" x2="90.80" y2="139.00" stroke="#9932cc" stroke-width="0.7" />
<line x1="89.60" y1="139.00" x2="95.20" y2="139.00" stroke="#9932cc" stroke-width="0.7" />
<line x1="94.00" y1="145.80" x2="99.60" y2="145.80" stroke="#9932cc" stroke-width="0.7" />
<line x1="99.50" y1="140.60" x2="105.10" y2="140.60" stroke="#9932cc" stroke-width="0.7" />
<line x1="105.30" y1="153.30" x2="110.90" y2="153.30" stroke="#9932cc" stroke-width="0.7" />
<line x1="111.90" y1="168.60" x2="117.50" y2="168.60" stroke="#9932cc" stroke-width="0.7" />
<line x1="119.00" y1="188.00" x2="124.60" y2="188.00" stroke="#9932cc" stroke-width="0.7" />
<line x1="127.10" y1="205.70" x2="132.70" y2="205.70" stroke="#9932cc" stroke-width="0.7" />
<circle cx="52.7" cy="60.0" r="3.2" fill="none" stroke="#9932cc" stroke-width="1.45"/>
<circle cx="53.2" cy="64.0" r="3.2" fill="none" stroke="#9932cc" stroke-width="1.45"/>
<circle cx="53.6" cy="71.4" r="3.2" fill="none" stroke="#9932cc" stroke-width="1.45"/>
<circle cx="54.3" cy="76.3" r="3.2" fill="none" stroke="#9932cc" stroke-width="1.45"/>
<circle cx="55.4" cy="81.7" r="3.2" fill="none" stroke="#9932cc" stroke-width="1.45"/>
<circle cx="56.7" cy="85.2" r="3.2" fill="none" stroke="#9932cc" stroke-width="1.45"/>
<circle cx="58.3" cy="88.7" r="3.2" fill="none" stroke="#9932cc" stroke-width="1.45"/>
<circle cx="60.1" cy="96.2" r="3.2" fill="none" stroke="#9932cc" stroke-width="1.45"/>
<circle cx="61.3" cy="104.3" r="3.2" fill="none" stroke="#9932cc" stroke-width="1.45"/>
<circle cx="65.5" cy="92.9" r="3.2" fill="none" stroke="#9932cc" stroke-width="1.45"/>
<circle cx="68.1" cy="101.9" r="3.2" fill="none" stroke="#9932cc" stroke-width="1.45"/>
<circle cx="70.2" cy="136.3" r="3.2" fill="none" stroke="#9932cc" stroke-width="1.45"/>
<circle cx="73.2" cy="138.7" r="3.2" fill="none" stroke="#9932cc" stroke-width="1.45"/>
<circle cx="76.6" cy="135.7" r="3.2" fill="none" stroke="#9932cc" stroke-width="1.45"/>
<circle cx="79.7" cy="136.8" r="3.2" fill="none" stroke="#9932cc" stroke-width="1.45"/>
<circle cx="83.5" cy="142.8" r="3.2" fill="none" stroke="#9932cc" stroke-width="1.45"/>
<circle cx="88.0" cy="139.0" r="3.2" fill="none" stroke="#9932cc" stroke-width="1.45"/>
<circle cx="92.4" cy="139.0" r="3.2" fill="none" stroke="#9932cc" stroke-width="1.45"/>
<circle cx="96.8" cy="145.8" r="3.2" fill="none" stroke="#9932cc" stroke-width="1.45"/>
<circle cx="102.3" cy="140.6" r="3.2" fill="none" stroke="#9932cc" stroke-width="1.45"/>
<circle cx="108.1" cy="153.3" r="3.2" fill="none" stroke="#9932cc" stroke-width="1.45"/>
<circle cx="114.7" cy="168.6" r="3.2" fill="none" stroke="#9932cc" stroke-width="1.45"/>
<circle cx="121.8" cy="188.0" r="3.2" fill="none" stroke="#9932cc" stroke-width="1.45"/>
<circle cx="129.9" cy="205.7" r="3.2" fill="none" stroke="#9932cc" stroke-width="1.45"/>
<circle cx="150.5" cy="187.8" r="3.2" fill="none" stroke="#9932cc" stroke-width="1.45"/>
<circle cx="190.4" cy="187.8" r="3.2" fill="none" stroke="#9932cc" stroke-width="1.45"/>
<circle cx="243.9" cy="195.2" r="3.2" fill="none" stroke="#9932cc" stroke-width="1.45"/>
<circle cx="317.2" cy="202.3" r="3.2" fill="none" stroke="#9932cc" stroke-width="1.45"/>
<rect x="43.0" y="21.5" width="331.1" height="331.3" fill="none" stroke="#444444" stroke-width="1.2"/>
<line x1="61.40" y1="352.80" x2="61.40" y2="348.90" stroke="#383838" stroke-width="0.95" />
<line x1="79.79" y1="352.80" x2="79.79" y2="348.90" stroke="#383838" stroke-width="0.95" />
<line x1="98.19" y1="352.80" x2="98.19" y2="348.90" stroke="#383838" stroke-width="0.95" />
<line x1="116.59" y1="352.80" x2="116.59" y2="345.20" stroke="#383838" stroke-width="0.95" />
<line x1="134.99" y1="352.80" x2="134.99" y2="348.90" stroke="#383838" stroke-width="0.95" />
<line x1="153.38" y1="352.80" x2="153.38" y2="348.90" stroke="#383838" stroke-width="0.95" />
<line x1="171.78" y1="352.80" x2="171.78" y2="348.90" stroke="#383838" stroke-width="0.95" />
<line x1="190.18" y1="352.80" x2="190.18" y2="345.20" stroke="#383838" stroke-width="0.95" />
<line x1="208.57" y1="352.80" x2="208.57" y2="348.90" stroke="#383838" stroke-width="0.95" />
<line x1="226.97" y1="352.80" x2="226.97" y2="348.90" stroke="#383838" stroke-width="0.95" />
<line x1="245.37" y1="352.80" x2="245.37" y2="348.90" stroke="#383838" stroke-width="0.95" />
<line x1="263.77" y1="352.80" x2="263.77" y2="345.20" stroke="#383838" stroke-width="0.95" />
<line x1="282.16" y1="352.80" x2="282.16" y2="348.90" stroke="#383838" stroke-width="0.95" />
<line x1="300.56" y1="352.80" x2="300.56" y2="348.90" stroke="#383838" stroke-width="0.95" />
<line x1="318.96" y1="352.80" x2="318.96" y2="348.90" stroke="#383838" stroke-width="0.95" />
<line x1="337.36" y1="352.80" x2="337.36" y2="345.20" stroke="#383838" stroke-width="0.95" />
<line x1="355.75" y1="352.80" x2="355.75" y2="348.90" stroke="#383838" stroke-width="0.95" />
<line x1="84.05" y1="21.50" x2="84.05" y2="25.40" stroke="#383838" stroke-width="0.95" />
<line x1="125.10" y1="21.50" x2="125.10" y2="29.10" stroke="#383838" stroke-width="0.95" />
<line x1="166.15" y1="21.50" x2="166.15" y2="25.40" stroke="#383838" stroke-width="0.95" />
<line x1="207.20" y1="21.50" x2="207.20" y2="29.10" stroke="#383838" stroke-width="0.95" />
<line x1="248.25" y1="21.50" x2="248.25" y2="25.40" stroke="#383838" stroke-width="0.95" />
<line x1="289.30" y1="21.50" x2="289.30" y2="29.10" stroke="#383838" stroke-width="0.95" />
<line x1="330.35" y1="21.50" x2="330.35" y2="25.40" stroke="#383838" stroke-width="0.95" />
<line x1="371.40" y1="21.50" x2="371.40" y2="29.10" stroke="#383838" stroke-width="0.95" />
<line x1="43.00" y1="333.31" x2="46.90" y2="333.31" stroke="#383838" stroke-width="0.95" />
<line x1="374.15" y1="333.31" x2="370.25" y2="333.31" stroke="#383838" stroke-width="0.95" />
<line x1="43.00" y1="313.82" x2="46.90" y2="313.82" stroke="#383838" stroke-width="0.95" />
<line x1="374.15" y1="313.82" x2="370.25" y2="313.82" stroke="#383838" stroke-width="0.95" />
<line x1="43.00" y1="294.34" x2="46.90" y2="294.34" stroke="#383838" stroke-width="0.95" />
<line x1="374.15" y1="294.34" x2="370.25" y2="294.34" stroke="#383838" stroke-width="0.95" />
<line x1="43.00" y1="274.85" x2="46.90" y2="274.85" stroke="#383838" stroke-width="0.95" />
<line x1="374.15" y1="274.85" x2="370.25" y2="274.85" stroke="#383838" stroke-width="0.95" />
<line x1="43.00" y1="255.36" x2="50.60" y2="255.36" stroke="#383838" stroke-width="0.95" />
<line x1="374.15" y1="255.36" x2="366.55" y2="255.36" stroke="#383838" stroke-width="0.95" />
<line x1="43.00" y1="235.87" x2="46.90" y2="235.87" stroke="#383838" stroke-width="0.95" />
<line x1="374.15" y1="235.87" x2="370.25" y2="235.87" stroke="#383838" stroke-width="0.95" />
<line x1="43.00" y1="216.38" x2="46.90" y2="216.38" stroke="#383838" stroke-width="0.95" />
<line x1="374.15" y1="216.38" x2="370.25" y2="216.38" stroke="#383838" stroke-width="0.95" />
<line x1="43.00" y1="196.89" x2="46.90" y2="196.89" stroke="#383838" stroke-width="0.95" />
<line x1="374.15" y1="196.89" x2="370.25" y2="196.89" stroke="#383838" stroke-width="0.95" />
<line x1="43.00" y1="177.41" x2="46.90" y2="177.41" stroke="#383838" stroke-width="0.95" />
<line x1="374.15" y1="177.41" x2="370.25" y2="177.41" stroke="#383838" stroke-width="0.95" />
<line x1="43.00" y1="157.92" x2="50.60" y2="157.92" stroke="#383838" stroke-width="0.95" />
<line x1="374.15" y1="157.92" x2="366.55" y2="157.92" stroke="#383838" stroke-width="0.95" />
<line x1="43.00" y1="138.43" x2="46.90" y2="138.43" stroke="#383838" stroke-width="0.95" />
<line x1="374.15" y1="138.43" x2="370.25" y2="138.43" stroke="#383838" stroke-width="0.95" />
<line x1="43.00" y1="118.94" x2="46.90" y2="118.94" stroke="#383838" stroke-width="0.95" />
<line x1="374.15" y1="118.94" x2="370.25" y2="118.94" stroke="#383838" stroke-width="0.95" />
<line x1="43.00" y1="99.45" x2="46.90" y2="99.45" stroke="#383838" stroke-width="0.95" />
<line x1="374.15" y1="99.45" x2="370.25" y2="99.45" stroke="#383838" stroke-width="0.95" />
<line x1="43.00" y1="79.96" x2="46.90" y2="79.96" stroke="#383838" stroke-width="0.95" />
<line x1="374.15" y1="79.96" x2="370.25" y2="79.96" stroke="#383838" stroke-width="0.95" />
<line x1="43.00" y1="60.48" x2="50.60" y2="60.48" stroke="#383838" stroke-width="0.95" />
<line x1="374.15" y1="60.48" x2="366.55" y2="60.48" stroke="#383838" stroke-width="0.95" />
<line x1="43.00" y1="40.99" x2="46.90" y2="40.99" stroke="#383838" stroke-width="0.95" />
<line x1="374.15" y1="40.99" x2="370.25" y2="40.99" stroke="#383838" stroke-width="0.95" />
<circle cx="54.4" cy="252.2" r="3.25" fill="#000"/>
<circle cx="53.4" cy="256.9" r="3.25" fill="#000"/>
<circle cx="55.9" cy="240.3" r="3.25" fill="#000"/>
<circle cx="57.0" cy="237.2" r="3.25" fill="#000"/>
<circle cx="58.5" cy="232.7" r="3.25" fill="#000"/>
<circle cx="44.0" cy="228.0" r="3.1" fill="#000"/>
<circle cx="44.2" cy="231.5" r="3.1" fill="#000"/>
<circle cx="44.0" cy="235.0" r="3.1" fill="#000"/>
<circle cx="44.3" cy="238.5" r="3.1" fill="#000"/>
<circle cx="44.0" cy="242.0" r="3.1" fill="#000"/>
<circle cx="44.4" cy="245.5" r="3.1" fill="#000"/>
<circle cx="44.8" cy="259.1" r="3.1" fill="#000"/>
<circle cx="43.4" cy="261.6" r="3.1" fill="#000"/>
<circle cx="44.1" cy="266.0" r="3.1" fill="#000"/>
<circle cx="52.9" cy="269.8" r="3.1" fill="#000"/>
<circle cx="52.0" cy="275.8" r="3.1" fill="#000"/>
<circle cx="45.6" cy="277.4" r="3.1" fill="#000"/>
<circle cx="50.9" cy="280.4" r="3.1" fill="#000"/>
<circle cx="43.4" cy="282.7" r="3.1" fill="#000"/>
<circle cx="50.2" cy="285.7" r="3.1" fill="#000"/>
<circle cx="43.4" cy="288.0" r="3.1" fill="#000"/>
<circle cx="45.6" cy="298.6" r="3.1" fill="#000"/>
<circle cx="45.6" cy="306.9" r="3.1" fill="#000"/>
<circle cx="49.4" cy="308.8" r="3.1" fill="#000"/>
<circle cx="43.4" cy="314.4" r="3.1" fill="#000"/>
<circle cx="48.6" cy="316.0" r="3.1" fill="#000"/>
<circle cx="43.4" cy="329.6" r="3.1" fill="#000"/>
<circle cx="45.6" cy="336.5" r="3.1" fill="#000"/>
<circle cx="48.6" cy="342.6" r="3.1" fill="#000"/>
<circle cx="47.1" cy="347.9" r="3.1" fill="#000"/>
<circle cx="47.1" cy="351.5" r="3.1" fill="#000"/>
<text transform="translate(43.30,367.10) scale(1.13,1)" font-size="11.5" text-anchor="middle" fill="#3c3c3c" font-family="Liberation Sans, sans-serif">0</text>
<text transform="translate(116.89,367.10) scale(1.13,1)" font-size="11.5" text-anchor="middle" fill="#3c3c3c" font-family="Liberation Sans, sans-serif">2</text>
<text transform="translate(190.48,367.10) scale(1.13,1)" font-size="11.5" text-anchor="middle" fill="#3c3c3c" font-family="Liberation Sans, sans-serif">4</text>
<text transform="translate(264.07,367.10) scale(1.13,1)" font-size="11.5" text-anchor="middle" fill="#3c3c3c" font-family="Liberation Sans, sans-serif">6</text>
<text transform="translate(337.66,367.10) scale(1.13,1)" font-size="11.5" text-anchor="middle" fill="#3c3c3c" font-family="Liberation Sans, sans-serif">8</text>
<text transform="translate(36.90,356.95) scale(1.13,1)" font-size="11.5" text-anchor="end" fill="#3c3c3c" font-family="Liberation Sans, sans-serif">0</text>
<text transform="translate(36.90,259.51) scale(1.13,1)" font-size="11.5" text-anchor="end" fill="#3c3c3c" font-family="Liberation Sans, sans-serif">50</text>
<text transform="translate(36.90,162.07) scale(1.13,1)" font-size="11.5" text-anchor="end" fill="#3c3c3c" font-family="Liberation Sans, sans-serif">100</text>
<text transform="translate(36.90,64.63) scale(1.13,1)" font-size="11.5" text-anchor="end" fill="#3c3c3c" font-family="Liberation Sans, sans-serif">150</text>
<text transform="translate(125.60,15.80) scale(1.13,1)" font-size="11.5" text-anchor="middle" fill="#3c3c3c" font-family="Liberation Sans, sans-serif">10</text>
<text transform="translate(207.70,15.80) scale(1.13,1)" font-size="11.5" text-anchor="middle" fill="#3c3c3c" font-family="Liberation Sans, sans-serif">20</text>
<text transform="translate(289.80,15.80) scale(1.13,1)" font-size="11.5" text-anchor="middle" fill="#3c3c3c" font-family="Liberation Sans, sans-serif">30</text>
<text transform="translate(371.90,15.80) scale(1.13,1)" font-size="11.5" text-anchor="middle" fill="#3c3c3c" font-family="Liberation Sans, sans-serif">40</text>
<text x="228.2" y="11.1" font-size="9.8" fill="#3c3c3c" font-family="Liberation Sans, sans-serif" font-style="italic" textLength="5.4" lengthAdjust="spacingAndGlyphs">x</text>
<text x="239.4" y="11.0" font-size="12.8" fill="#3c3c3c" font-family="Liberation Sans, sans-serif" >[</text>
<text x="244.4" y="11.1" font-size="9.6" fill="#3c3c3c" font-family="Liberation Sans, sans-serif" textLength="17.6" lengthAdjust="spacingAndGlyphs">kpc</text>
<text x="264.3" y="11.0" font-size="12.8" fill="#3c3c3c" font-family="Liberation Sans, sans-serif" >]</text>
<text x="287.2" y="45.1" font-size="12.0" fill="#3c3c3c" font-family="Liberation Sans, sans-serif" textLength="25.2" lengthAdjust="spacingAndGlyphs">NGC</text>
<text x="319.0" y="45.1" font-size="12.0" fill="#3c3c3c" font-family="Liberation Sans, sans-serif" textLength="31.6" lengthAdjust="spacingAndGlyphs">4494</text>
<text x="194.9" y="382.4" font-size="9.8" fill="#3c3c3c" font-family="Liberation Sans, sans-serif" font-style="italic" textLength="5.6" lengthAdjust="spacingAndGlyphs">x</text>
<text transform="translate(202.0,384.6) skewX(-13)" font-size="16" fill="#4a4a4a" font-family="Liberation Sans, sans-serif">/</text>
<text x="209.3" y="382.4" font-size="9.8" fill="#3c3c3c" font-family="Liberation Sans, sans-serif" font-style="italic" textLength="6.6" lengthAdjust="spacingAndGlyphs">a</text>
<text x="216.8" y="385.8" font-size="6.8" fill="#3c3c3c" font-family="Liberation Sans, sans-serif" textLength="4.3" lengthAdjust="spacingAndGlyphs">e</text>
<text transform="translate(11.4,238.8) rotate(-90)" font-size="9.8" fill="#3c3c3c" font-family="Liberation Sans, sans-serif" font-style="italic" textLength="5.6" lengthAdjust="spacingAndGlyphs">v</text>
<text transform="translate(15.0,231.8) rotate(-90)" font-size="6.6" fill="#3c3c3c" font-family="Liberation Sans, sans-serif" textLength="15.2" lengthAdjust="spacingAndGlyphs">rot,p</text>
<text transform="translate(11.4,210.5) rotate(-90)" font-size="9.8" fill="#3c3c3c" font-family="Liberation Sans, sans-serif" >,</text>
<text transform="translate(11.4,204.4) rotate(-90)" font-size="10.2" fill="#3c3c3c" font-family="Liberation Sans, sans-serif" font-style="italic" textLength="8.6" lengthAdjust="spacingAndGlyphs">σ</text>
<text transform="translate(15.0,194.6) rotate(-90)" font-size="6.6" fill="#3c3c3c" font-family="Liberation Sans, sans-serif" textLength="4.4" lengthAdjust="spacingAndGlyphs">p</text>
<text transform="translate(11.2,183.9) rotate(-90)" font-size="12.6" fill="#3c3c3c" font-family="Liberation Sans, sans-serif" >[</text>
<text transform="translate(11.4,177.3) rotate(-90)" font-size="9.8" fill="#3c3c3c" font-family="Liberation Sans, sans-serif" textLength="12.4" lengthAdjust="spacingAndGlyphs">km</text>
<text transform="translate(11.4,158.3) rotate(-90)" font-size="9.8" fill="#3c3c3c" font-family="Liberation Sans, sans-serif" textLength="5.4" lengthAdjust="spacingAndGlyphs">s</text>
<text transform="translate(7.2,150.4) rotate(-90)" font-size="6.8" fill="#3c3c3c" font-family="Liberation Sans, sans-serif" textLength="7.2" lengthAdjust="spacingAndGlyphs">−1</text>
<text transform="translate(11.2,140.3) rotate(-90)" font-size="12.6" fill="#3c3c3c" font-family="Liberation Sans, sans-serif" >]</text>
<text x="88.0" y="292.2" font-size="9.9" text-anchor="start" fill="#3c3cb0" font-family="Liberation Sans, sans-serif" >LS</text>
<text x="94.4" y="311.6" font-size="10.4" fill="#ffa040" font-family="Liberation Sans, sans-serif" textLength="45.6" lengthAdjust="spacingAndGlyphs">SMEAGOL</text>
<text x="143.2" y="335.1" font-size="10.2" text-anchor="start" fill="#3fae3f" font-family="Liberation Sans, sans-serif" textLength="20.2" lengthAdjust="spacingAndGlyphs">PNe</text>
</svg>
</body></html>
